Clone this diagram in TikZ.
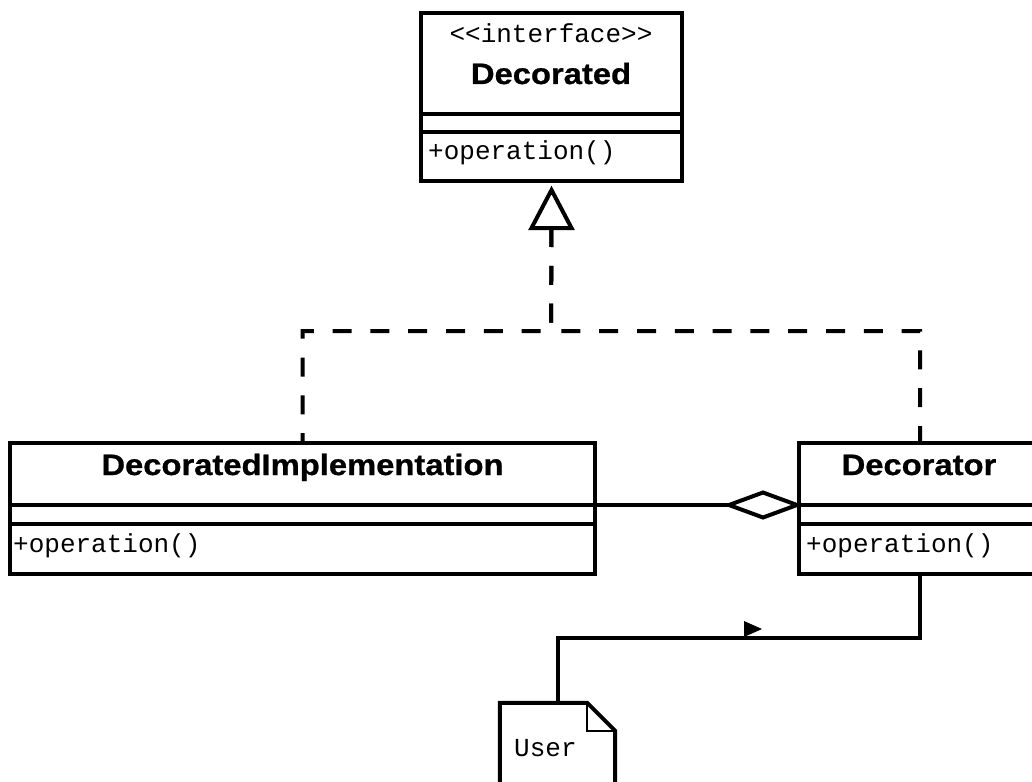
\documentclass[tikz,border=0pt]{standalone}
\usepackage{fontspec}
\setmainfont{Liberation Sans}
\newfontfamily\umlname[FakeStretch=1.11,FakeBold=0.8]{Liberation Sans}
\newfontfamily\umlmono{Liberation Mono}

\tikzset{
  umlbox/.style={draw, line width=4pt, inner sep=0pt},
  rule/.style={line width=4pt},
  classname/.style={font=\umlname\bfseries\fontsize{29.5}{34}\selectfont, inner sep=0pt, anchor=base},
  monotext/.style={font=\umlmono\fontsize{26}{30}\selectfont, inner sep=0pt},
  realize/.style={line width=4pt, dash pattern=on 19pt off 18.8pt},
  link/.style={line width=4pt},
}

\begin{document}
\begin{tikzpicture}[x=1pt,y=-1pt]
\useasboundingbox (0,0) rectangle (1032,781);
\clip (0,0) rectangle (1032,781);

% interface Decorated
\node[umlbox, minimum width=261pt, minimum height=168pt] (decorated) at (551.5,97) {};
\draw[rule] ([yshift=-103pt]decorated.north west) -- ([yshift=-103pt]decorated.north east);
\draw[rule] ([yshift=-121pt]decorated.north west) -- ([yshift=-121pt]decorated.north east);
\node[monotext, anchor=base] (stereo) at (551,43) {<<interface>>};
\node[classname] (decoratedname) at (551,84) {Decorated};
\node[monotext, anchor=base west] (decoratedop) at (428,159) {+operation()};

% class DecoratedImplementation
\node[umlbox, minimum width=585pt, minimum height=131pt] (impl) at (302.5,508.5) {};
\draw[rule] ([yshift=-64pt]impl.north west) -- ([yshift=-64pt]impl.north east);
\draw[rule] ([yshift=-83pt]impl.north west) -- ([yshift=-83pt]impl.north east);
\node[classname] (implname) at (302.5,475) {DecoratedImplementation};
\node[monotext, anchor=base west] (implop) at (13,552) {+operation()};

% class Decorator
\node[umlbox, minimum width=242pt, minimum height=131pt] (decorator) at (920,508.5) {};
\draw[rule] ([yshift=-64pt]decorator.north west) -- ([yshift=-64pt]decorator.north east);
\draw[rule] ([yshift=-83pt]decorator.north west) -- ([yshift=-83pt]decorator.north east);
\node[classname] (decoratorname) at (919,475) {Decorator};
\node[monotext, anchor=base west] (decoratorop) at (806,552) {+operation()};

% note User
\node[inner sep=0pt, minimum width=115pt, minimum height=97pt] (user) at (557.5,751.5) {};
\draw[link, line join=miter] (user.south west) -- (user.north west)
  -- ([xshift=-28pt]user.north east) -- ([yshift=-28pt]user.north east) -- (user.south east);
\draw[line width=2pt] ([xshift=-28pt]user.north east) -- ++(0,28) -- ++(28,0);
\node[monotext, anchor=base west] (username) at (514,756) {User};

% realization: both classes implement Decorated
\coordinate (tribase) at ([yshift=-45pt]decorated.south);
\coordinate (tritip) at ([yshift=-7pt]decorated.south);
\coordinate (split) at (551,331);
\draw[realize] (tribase) -- (split) -| (impl.north);
\draw[realize] (tribase) -- (split) -| (decorator.north);
\draw[link, line join=miter, fill=white] ([xshift=-20pt]tribase) -- (tritip) -- ([xshift=20pt]tribase) -- cycle;

% aggregation: Decorator holds a DecoratedImplementation
\coordinate (aggtip) at ([yshift=-64pt]decorator.north west);
\draw[link] ([yshift=-64pt]impl.north east) -- ([xshift=-68pt]aggtip);
\draw[link, line join=miter, fill=white] (aggtip) -- ++(-34,-12.5) -- ++(-34,12.5) -- ++(34,12.5) -- cycle;

% association: User uses Decorator
\draw[link, line join=miter] (user.north) -- ++(0,-65) -| (decorator.south);
\fill (744,621) -- (762,629) -- (744,637) -- cycle;
\end{tikzpicture}
\end{document}
